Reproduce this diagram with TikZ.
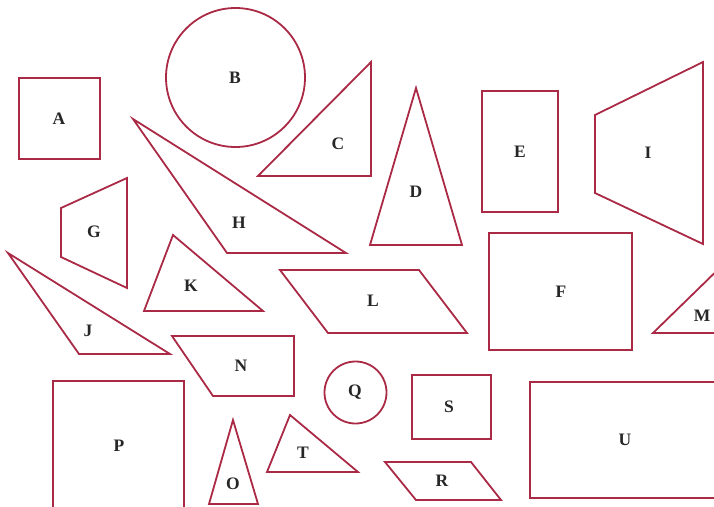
\documentclass[tikz,border=0pt]{standalone}
\usepackage{fontspec}
\setmainfont{Liberation Serif}
\definecolor{shapered}{RGB}{170,42,70}

\begin{document}
\begin{tikzpicture}[x=1pt,y=-1pt,
    fig/.style={draw=shapered,line width=1.8pt,line join=miter},
    lbl/.style={font=\fontsize{17.5}{19}\selectfont\bfseries,text=black!85}]
    \useasboundingbox(0,0)rectangle(714,506);
    \clip(0,0)rectangle(714,506);

    % top row
    \draw[fig](19,78)rectangle(100,159);
    \node[lbl](a)at(59,119){A};
    \draw[fig](235.5,77.5)circle(69.5);
    \node[lbl](b)at(235,78){B};
    \draw[fig](258,176)--(371,62)--(371,176)--cycle;
    \node[lbl](c)at(338,144){C};
    \draw[fig](416,88)--(462,245)--(370,245)--cycle;
    \node[lbl](d)at(416,192){D};
    \draw[fig](482,91)rectangle(558,212);
    \node[lbl](e)at(520,152){E};
    \draw[fig](595,115)--(703,62)--(703,244)--(595,193)--cycle;
    \node[lbl](i)at(648,153){I};

    % middle
    \draw[fig](61,208)--(127,178)--(127,288)--(61,257)--cycle;
    \node[lbl](g)at(94,232){G};
    \draw[fig](133,119)--(346,253)--(227,253)--cycle;
    \node[lbl](h)at(239,223){H};
    \draw[fig](489,233)rectangle(632,350);
    \node[lbl](f)at(561,292){F};
    \draw[fig](8,253)--(170,354)--(79,354)--cycle;
    \node[lbl](j)at(88,331){J};
    \draw[fig](173,235)--(263,311)--(144,311)--cycle;
    \node[lbl](k)at(191,286){K};
    \draw[fig](280,270)--(419,270)--(467,333)--(328,333)--cycle;
    \node[lbl](l)at(373,301){L};
    \draw[fig](653,333)--(733,255)--(733,333)--cycle;
    \node[lbl](m)at(702,316){M};
    \draw[fig](172,336)--(294,336)--(294,396)--(213,396)--cycle;
    \node[lbl](n)at(241,366){N};

    % bottom row
    \draw[fig](53,381)rectangle(184,530);
    \node[lbl](p)at(119,446){P};
    \draw[fig](233,420)--(258,504)--(209,504)--cycle;
    \node[lbl](o)at(233,484){O};
    \draw[fig](290,415)--(358,472)--(267,472)--cycle;
    \node[lbl](t)at(303,453){T};
    \draw[fig](355.5,392.5)circle(31);
    \node[lbl](q)at(355,392){Q};
    \draw[fig](412,375)rectangle(491,439);
    \node[lbl](s)at(449,407){S};
    \draw[fig](385,462)--(471,462)--(501,500)--(416,500)--cycle;
    \node[lbl](r)at(442,481){R};
    \draw[fig](530,382)rectangle(730,498);
    \node[lbl](u)at(625,440){U};
\end{tikzpicture}
\end{document}
